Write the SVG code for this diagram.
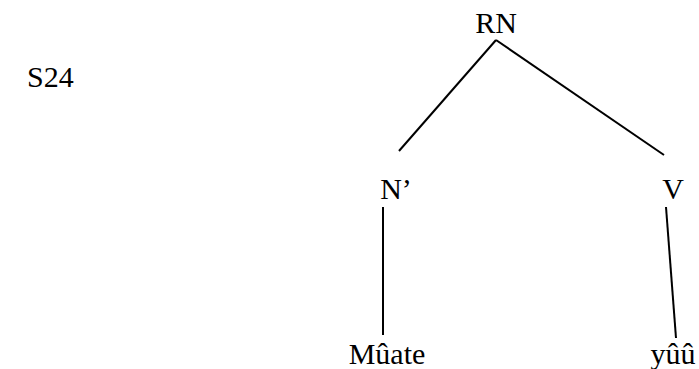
<svg xmlns="http://www.w3.org/2000/svg" width="699" height="369" viewBox="0 0 699 369">
<style>
text{font-size:30px;fill:#000}
.e{stroke:#000;stroke-width:2;fill:none}
</style>
<rect width="699" height="369" fill="#fff"/>
<g id="connectors">
<line class="e" x1="496" y1="40" x2="399" y2="151"/>
<line class="e" x1="496" y1="40" x2="664" y2="155"/>
<line class="e" x1="383" y1="207" x2="383" y2="335"/>
<line class="e" x1="666" y1="207" x2="676" y2="338"/>
</g>
<g font-family="Liberation Serif, Times New Roman, serif">
<g id="label"><text x="27" y="87">S24</text></g>
<g id="RN"><text x="496" y="33" text-anchor="middle">RN</text></g>
<g id="Nbar"><text x="396" y="199" text-anchor="middle">N’</text></g>
<g id="V"><text x="673" y="199" text-anchor="middle">V</text></g>
<g id="Muate"><text x="387" y="364" text-anchor="middle">Mûate</text></g>
<g id="yuu"><text x="673" y="364" text-anchor="middle">yûû</text></g>
</g>
</svg>
